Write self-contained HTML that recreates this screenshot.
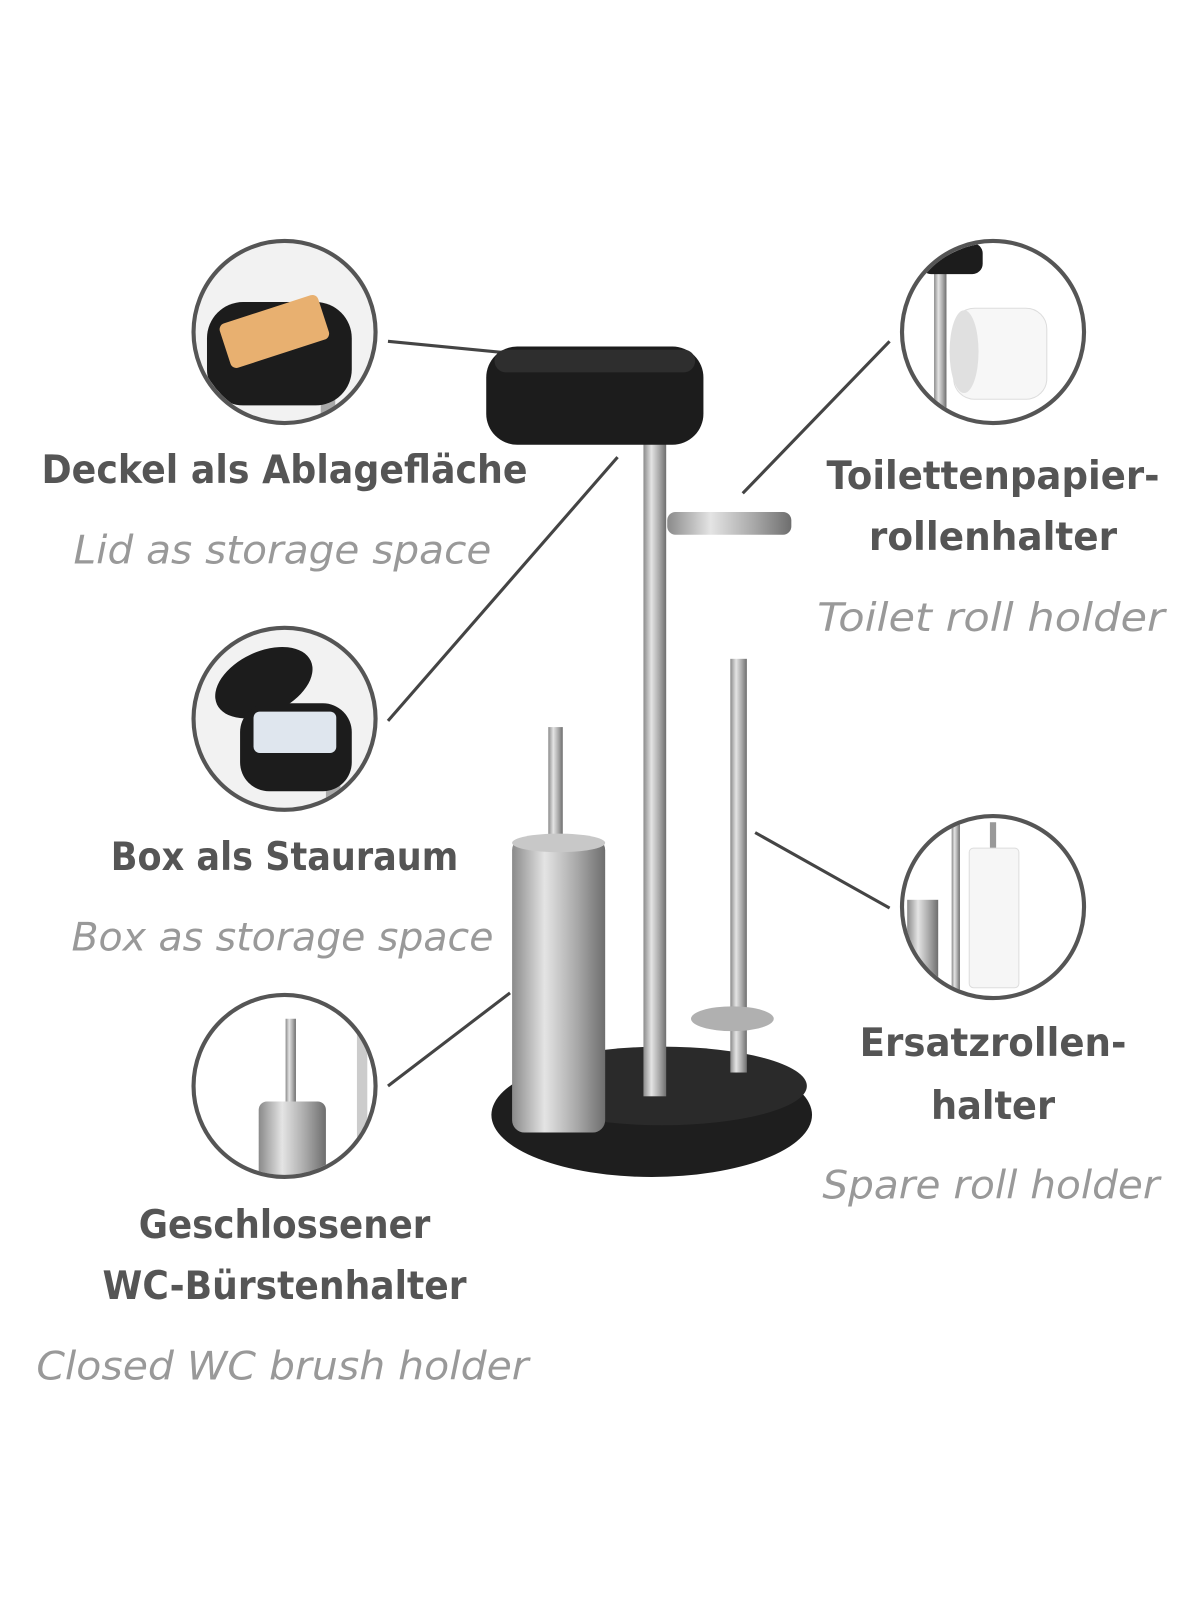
<!DOCTYPE html>
<html><head><meta charset="utf-8"><style>html,body{margin:0;padding:0;background:#fff}svg{display:block}</style></head>
<body>
<svg width="1200" height="1600" viewBox="0 0 1160 1547" xmlns="http://www.w3.org/2000/svg">
<defs>
<linearGradient id="st" x1="0" x2="1"><stop offset="0" stop-color="#8a8a8a"/><stop offset="0.35" stop-color="#e4e4e4"/><stop offset="0.7" stop-color="#a8a8a8"/><stop offset="1" stop-color="#6e6e6e"/></linearGradient>
<clipPath id="c1"><circle cx="275" cy="321" r="86"/></clipPath>
<clipPath id="c2"><circle cx="275" cy="695" r="86"/></clipPath>
<clipPath id="c3"><circle cx="275" cy="1050" r="86"/></clipPath>
<clipPath id="c4"><circle cx="960" cy="321" r="86"/></clipPath>
<clipPath id="c5"><circle cx="960" cy="877" r="86"/></clipPath>
</defs>
<rect width="1160" height="1547" fill="#fff"/>
<g stroke="#444" stroke-width="3">
<line x1="375" y1="330" x2="530" y2="345"/>
<line x1="375" y1="697" x2="597" y2="442"/>
<line x1="375" y1="1050" x2="493" y2="960"/>
<line x1="718" y1="477" x2="860" y2="330"/>
<line x1="730" y1="805" x2="860" y2="878"/>
</g>
<ellipse cx="630" cy="1078" rx="155" ry="60" fill="#1e1e1e"/>
<ellipse cx="640" cy="1050" rx="140" ry="38" fill="#2a2a2a"/>
<rect x="622" y="425" width="22" height="635" fill="url(#st)"/>
<rect x="645" y="495" width="120" height="22" rx="8" fill="url(#st)"/>
<rect x="706" y="637" width="16" height="400" fill="url(#st)"/>
<ellipse cx="708" cy="985" rx="40" ry="12" fill="#b0b0b0"/>
<rect x="530" y="703" width="14" height="120" fill="url(#st)"/>
<rect x="495" y="810" width="90" height="285" rx="12" fill="url(#st)"/>
<ellipse cx="540" cy="815" rx="45" ry="9" fill="#c8c8c8"/>
<rect x="470" y="335" width="210" height="95" rx="30" fill="#1c1c1c"/>
<rect x="478" y="338" width="194" height="22" rx="11" fill="#2e2e2e"/>
<g clip-path="url(#c1)"><rect x="180" y="230" width="190" height="190" fill="#f2f2f2"/><rect x="310" y="340" width="14" height="80" fill="#aaa"/><rect x="200" y="292" width="140" height="100" rx="35" fill="#1c1c1c"/><rect x="215" y="298" width="100" height="45" rx="6" fill="#e8b070" transform="rotate(-18 265 320)"/></g>
<g clip-path="url(#c2)"><rect x="180" y="600" width="190" height="190" fill="#f2f2f2"/><rect x="315" y="700" width="14" height="90" fill="#aaa"/><ellipse cx="255" cy="660" rx="50" ry="30" fill="#1c1c1c" transform="rotate(-25 255 660)"/><rect x="232" y="680" width="108" height="85" rx="28" fill="#1c1c1c"/><rect x="245" y="688" width="80" height="40" rx="6" fill="#dfe6ee"/></g>
<g clip-path="url(#c3)"><rect x="180" y="960" width="190" height="190" fill="#fff"/><rect x="276" y="985" width="10" height="90" fill="url(#st)"/><rect x="250" y="1065" width="65" height="90" rx="8" fill="url(#st)"/><rect x="345" y="960" width="10" height="190" fill="#ccc"/></g>
<g clip-path="url(#c4)"><rect x="870" y="230" width="190" height="190" fill="#fff"/><rect x="903" y="240" width="12" height="180" fill="url(#st)"/><rect x="890" y="235" width="60" height="30" rx="10" fill="#1c1c1c"/><rect x="922" y="298" width="90" height="88" rx="20" fill="#f7f7f7" stroke="#ddd"/><ellipse cx="932" cy="340" rx="14" ry="40" fill="#e0e0e0"/></g>
<g clip-path="url(#c5)"><rect x="870" y="790" width="190" height="190" fill="#fff"/><rect x="920" y="790" width="8" height="180" fill="url(#st)"/><rect x="877" y="870" width="30" height="90" fill="url(#st)"/><rect x="957" y="795" width="6" height="30" fill="#999"/><rect x="937" y="820" width="48" height="135" rx="4" fill="#f6f6f6" stroke="#ddd"/></g>
<g fill="none" stroke="#555" stroke-width="4">
<circle cx="275" cy="321" r="88"/><circle cx="275" cy="695" r="88"/><circle cx="275" cy="1050" r="88"/><circle cx="960" cy="321" r="88"/><circle cx="960" cy="877" r="88"/>
</g>
<g font-family="'DejaVu Sans','Liberation Sans',sans-serif" text-anchor="middle">
<g fill="#555" font-weight="bold" font-size="38">
<text x="275" y="467" textLength="470" lengthAdjust="spacingAndGlyphs">Deckel als Ablagefläche</text>
<text x="275" y="841" textLength="336" lengthAdjust="spacingAndGlyphs">Box als Stauraum</text>
<text x="275" y="1197" textLength="282" lengthAdjust="spacingAndGlyphs">Geschlossener</text>
<text x="275" y="1256" textLength="352" lengthAdjust="spacingAndGlyphs">WC-Bürstenhalter</text>
<text x="960" y="473" textLength="322" lengthAdjust="spacingAndGlyphs">Toilettenpapier-</text>
<text x="960" y="532" textLength="240" lengthAdjust="spacingAndGlyphs">rollenhalter</text>
<text x="960" y="1021" textLength="258" lengthAdjust="spacingAndGlyphs">Ersatzrollen-</text>
<text x="960" y="1082" textLength="120" lengthAdjust="spacingAndGlyphs">halter</text>
</g>
<g fill="#999" font-style="italic" font-size="38">
<text x="273" y="545" textLength="404" lengthAdjust="spacingAndGlyphs">Lid as storage space</text>
<text x="273" y="919" textLength="408" lengthAdjust="spacingAndGlyphs">Box as storage space</text>
<text x="273" y="1334" textLength="476" lengthAdjust="spacingAndGlyphs">Closed WC brush holder</text>
<text x="958" y="610" textLength="336" lengthAdjust="spacingAndGlyphs">Toilet roll holder</text>
<text x="958" y="1159" textLength="326" lengthAdjust="spacingAndGlyphs">Spare roll holder</text>
</g>
</g>
</svg>
</body></html>
